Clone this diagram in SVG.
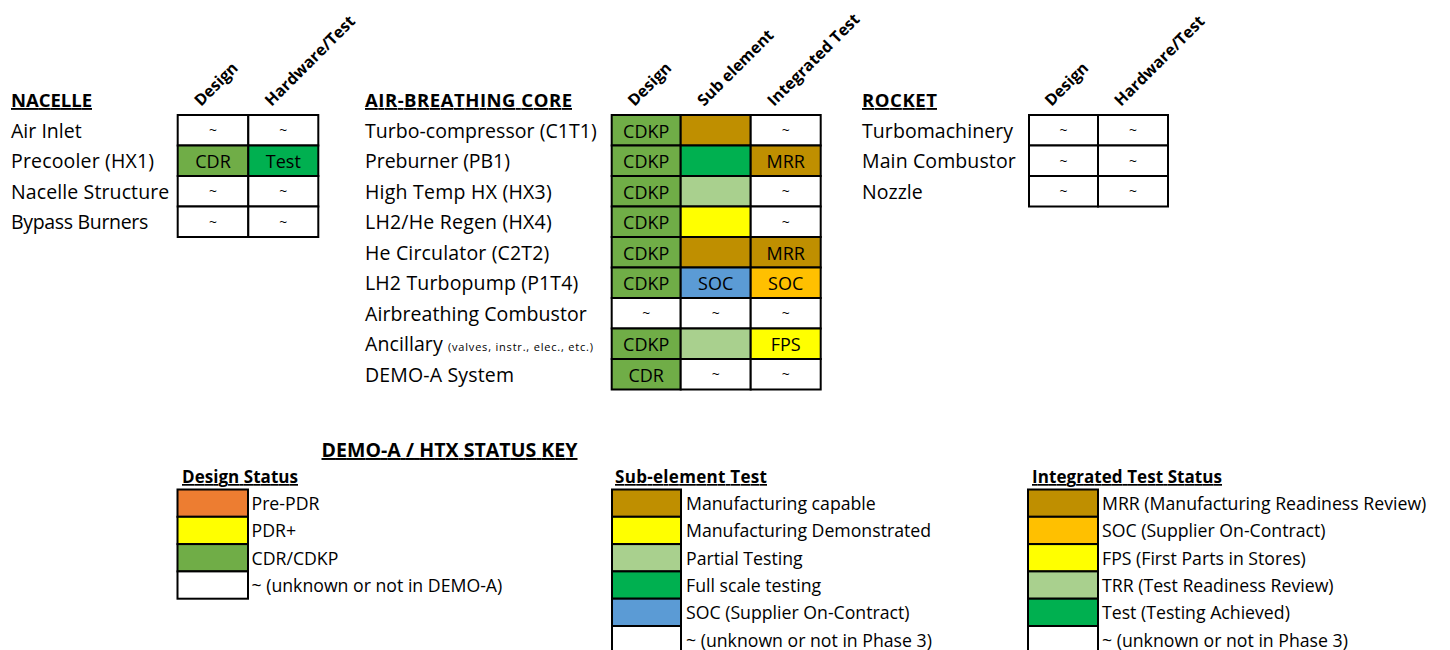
<svg xmlns="http://www.w3.org/2000/svg" width="1450" height="650" viewBox="0 0 1450 650">
<style>
text{font-family:"Open Sans","Liberation Sans",sans-serif;fill:#000}
.lbl{font-size:19.5px}
.hd{font-size:18.5px;font-weight:700;text-decoration:underline}
.rot{font-size:16px;font-weight:700}
.cv{font-size:18px;text-anchor:middle}
.tl{font-size:14px;text-anchor:middle}
.lg{font-size:17.7px}
.lh{font-size:17px;font-weight:700;text-decoration:underline}
.sm{font-size:11px}
.c{stroke:#000;stroke-width:2}
.w{fill:#fff}.g{fill:#70AD47}.bg{fill:#00B050}.lgn{fill:#A9D08E}.br{fill:#BF8F00}.y{fill:#FFFF00}.bl{fill:#5B9BD5}.or{fill:#FFC000}.pp{fill:#ED7D31}
</style>
<rect width="1450" height="650" fill="#fff"/>

<g id="nacelle">
<text class="hd" x="11" y="107" textLength="81">NACELLE</text>
<text class="rot" x="201" y="107" transform="rotate(-45 201 107)">Design</text>
<text class="rot" x="271.5" y="107" transform="rotate(-45 271.5 107)">Hardware/Test</text>
<text class="lbl" x="11" y="137.7" textLength="70.7">Air Inlet</text>
<text class="lbl" x="11" y="168.2" textLength="143">Precooler (HX1)</text>
<text class="lbl" x="11" y="198.7" textLength="158.3">Nacelle Structure</text>
<text class="lbl" x="11" y="229.2" textLength="137.3">Bypass Burners</text>
<rect class="c w" x="177.7" y="115" width="70.6" height="30.5"/>
<rect class="c w" x="248.3" y="115" width="70" height="30.5"/>
<rect class="c g" x="177.7" y="145.5" width="70.6" height="30.5"/>
<rect class="c bg" x="248.3" y="145.5" width="70" height="30.5"/>
<rect class="c w" x="177.7" y="176" width="70.6" height="30.5"/>
<rect class="c w" x="248.3" y="176" width="70" height="30.5"/>
<rect class="c w" x="177.7" y="206.5" width="70.6" height="30.5"/>
<rect class="c w" x="248.3" y="206.5" width="70" height="30.5"/>
<text class="tl" x="213" y="135">~</text><text class="tl" x="283.3" y="135">~</text>
<text class="cv" x="213" y="168.2">CDR</text><text class="cv" x="283.3" y="168.2">Test</text>
<text class="tl" x="213" y="196">~</text><text class="tl" x="283.3" y="196">~</text>
<text class="tl" x="213" y="226.5">~</text><text class="tl" x="283.3" y="226.5">~</text>
</g>

<g id="core">
<text class="hd" x="365" y="107" textLength="207">AIR-BREATHING CORE</text>
<text class="rot" x="634.5" y="107" transform="rotate(-45 634.5 107)">Design</text>
<text class="rot" x="704" y="107" transform="rotate(-45 704 107)">Sub element</text>
<text class="rot" x="774" y="107" transform="rotate(-45 774 107)">Integrated Test</text>
<text class="lbl" x="365" y="137.7" textLength="231.7">Turbo-compressor (C1T1)</text>
<text class="lbl" x="365" y="168.2" textLength="145">Preburner (PB1)</text>
<text class="lbl" x="365" y="198.7" textLength="186.7">High Temp HX (HX3)</text>
<text class="lbl" x="365" y="229.2" textLength="186.7">LH2/He Regen (HX4)</text>
<text class="lbl" x="365" y="259.7" textLength="184.3">He Circulator (C2T2)</text>
<text class="lbl" x="365" y="290.2" textLength="213.3">LH2 Turbopump (P1T4)</text>
<text class="lbl" x="365" y="320.7" textLength="221.7">Airbreathing Combustor</text>
<text class="lbl" x="365" y="351.2" textLength="77.7">Ancillary</text>
<text class="sm" x="448" y="351.2" textLength="145">(valves, instr., elec., etc.)</text>
<text class="lbl" x="365" y="381.7" textLength="149">DEMO-A System</text>
<rect class="c g" x="611.7" y="115" width="69" height="30.5"/>
<rect class="c br" x="680.7" y="115" width="70" height="30.5"/>
<rect class="c w" x="750.7" y="115" width="70" height="30.5"/>
<rect class="c g" x="611.7" y="145.5" width="69" height="30.5"/>
<rect class="c bg" x="680.7" y="145.5" width="70" height="30.5"/>
<rect class="c br" x="750.7" y="145.5" width="70" height="30.5"/>
<rect class="c g" x="611.7" y="176" width="69" height="30.5"/>
<rect class="c lgn" x="680.7" y="176" width="70" height="30.5"/>
<rect class="c w" x="750.7" y="176" width="70" height="30.5"/>
<rect class="c g" x="611.7" y="206.5" width="69" height="30.5"/>
<rect class="c y" x="680.7" y="206.5" width="70" height="30.5"/>
<rect class="c w" x="750.7" y="206.5" width="70" height="30.5"/>
<rect class="c g" x="611.7" y="237" width="69" height="30.5"/>
<rect class="c br" x="680.7" y="237" width="70" height="30.5"/>
<rect class="c br" x="750.7" y="237" width="70" height="30.5"/>
<rect class="c g" x="611.7" y="267.5" width="69" height="30.5"/>
<rect class="c bl" x="680.7" y="267.5" width="70" height="30.5"/>
<rect class="c or" x="750.7" y="267.5" width="70" height="30.5"/>
<rect class="c w" x="611.7" y="298" width="69" height="30.5"/>
<rect class="c w" x="680.7" y="298" width="70" height="30.5"/>
<rect class="c w" x="750.7" y="298" width="70" height="30.5"/>
<rect class="c g" x="611.7" y="328.5" width="69" height="30.5"/>
<rect class="c lgn" x="680.7" y="328.5" width="70" height="30.5"/>
<rect class="c y" x="750.7" y="328.5" width="70" height="30.5"/>
<rect class="c g" x="611.7" y="359" width="69" height="30.5"/>
<rect class="c w" x="680.7" y="359" width="70" height="30.5"/>
<rect class="c w" x="750.7" y="359" width="70" height="30.5"/>

<text class="cv" x="646.2" y="137.7">CDKP</text><text class="tl" x="785.7" y="135">~</text>
<text class="cv" x="646.2" y="168.2">CDKP</text><text class="cv" x="785.7" y="168.2">MRR</text>
<text class="cv" x="646.2" y="198.7">CDKP</text><text class="tl" x="785.7" y="196">~</text>
<text class="cv" x="646.2" y="229.2">CDKP</text><text class="tl" x="785.7" y="226.5">~</text>
<text class="cv" x="646.2" y="259.7">CDKP</text><text class="cv" x="785.7" y="259.7">MRR</text>
<text class="cv" x="646.2" y="290.2">CDKP</text><text class="cv" x="715.7" y="290.2">SOC</text><text class="cv" x="785.7" y="290.2">SOC</text>
<text class="tl" x="646.2" y="318">~</text><text class="tl" x="715.7" y="318">~</text><text class="tl" x="785.7" y="318">~</text>
<text class="cv" x="646.2" y="351.2">CDKP</text><text class="cv" x="785.7" y="351.2">FPS</text>
<text class="cv" x="646.2" y="381.7">CDR</text><text class="tl" x="715.7" y="379">~</text><text class="tl" x="785.7" y="379">~</text>
</g>

<g id="rocket">
<text class="hd" x="862" y="107" textLength="75">ROCKET</text>
<text class="rot" x="1051.5" y="107" transform="rotate(-45 1051.5 107)">Design</text>
<text class="rot" x="1121" y="107" transform="rotate(-45 1121 107)">Hardware/Test</text>
<text class="lbl" x="862" y="137.7" textLength="151">Turbomachinery</text>
<text class="lbl" x="862" y="168.2" textLength="153.7">Main Combustor</text>
<text class="lbl" x="862" y="198.7" textLength="60.7">Nozzle</text>
<rect class="c w" x="1029" y="115" width="69" height="30.5"/>
<rect class="c w" x="1098" y="115" width="70" height="30.5"/>
<rect class="c w" x="1029" y="145.5" width="69" height="30.5"/>
<rect class="c w" x="1098" y="145.5" width="70" height="30.5"/>
<rect class="c w" x="1029" y="176" width="69" height="30.5"/>
<rect class="c w" x="1098" y="176" width="70" height="30.5"/>
<text class="tl" x="1063.5" y="135">~</text><text class="tl" x="1133" y="135">~</text>
<text class="tl" x="1063.5" y="165.5">~</text><text class="tl" x="1133" y="165.5">~</text>
<text class="tl" x="1063.5" y="196">~</text><text class="tl" x="1133" y="196">~</text>
</g>

<g id="key-title">
<text class="lh" x="321.5" y="457" style="font-size:19.5px" textLength="256">DEMO-A / HTX STATUS KEY</text>
</g>

<g id="key-design">
<text class="lh" x="182" y="483" textLength="116">Design Status</text>
<rect class="c pp" x="177.5" y="489.5" width="70.5" height="27.3"/>
<rect class="c y" x="177.5" y="516.8" width="70.5" height="27.3"/>
<rect class="c g" x="177.5" y="544.1" width="70.5" height="27.3"/>
<rect class="c w" x="177.5" y="571.4" width="70.5" height="27.3"/>
<text class="lg" x="251.5" y="510">Pre-PDR</text>
<text class="lg" x="251.5" y="537.3">PDR+</text>
<text class="lg" x="251.5" y="564.6">CDR/CDKP</text>
<text class="lg" x="251.5" y="591.9">~ (unknown or not in DEMO-A)</text>
</g>

<g id="key-sub">
<text class="lh" x="615" y="483" textLength="152">Sub-element Test</text>
<rect class="c br" x="612" y="489.5" width="69" height="27.3"/>
<rect class="c y" x="612" y="516.8" width="69" height="27.3"/>
<rect class="c lgn" x="612" y="544.1" width="69" height="27.3"/>
<rect class="c bg" x="612" y="571.4" width="69" height="27.3"/>
<rect class="c bl" x="612" y="598.7" width="69" height="27.3"/>
<rect class="c w" x="612" y="626" width="69" height="30"/>
<text class="lg" x="686" y="510">Manufacturing capable</text>
<text class="lg" x="686" y="537.3">Manufacturing Demonstrated</text>
<text class="lg" x="686" y="564.6">Partial Testing</text>
<text class="lg" x="686" y="591.9">Full scale testing</text>
<text class="lg" x="686" y="619.2">SOC (Supplier On-Contract)</text>
<text class="lg" x="686" y="646.5">~ (unknown or not in Phase 3)</text>
</g>

<g id="key-integrated">
<text class="lh" x="1032" y="483" textLength="190">Integrated Test Status</text>
<rect class="c br" x="1028" y="489.5" width="70" height="27.3"/>
<rect class="c or" x="1028" y="516.8" width="70" height="27.3"/>
<rect class="c y" x="1028" y="544.1" width="70" height="27.3"/>
<rect class="c lgn" x="1028" y="571.4" width="70" height="27.3"/>
<rect class="c bg" x="1028" y="598.7" width="70" height="27.3"/>
<rect class="c w" x="1028" y="626" width="70" height="30"/>
<text class="lg" x="1102" y="510">MRR (Manufacturing Readiness Review)</text>
<text class="lg" x="1102" y="537.3">SOC (Supplier On-Contract)</text>
<text class="lg" x="1102" y="564.6">FPS (First Parts in Stores)</text>
<text class="lg" x="1102" y="591.9">TRR (Test Readiness Review)</text>
<text class="lg" x="1102" y="619.2">Test (Testing Achieved)</text>
<text class="lg" x="1102" y="646.5">~ (unknown or not in Phase 3)</text>
</g>
</svg>
